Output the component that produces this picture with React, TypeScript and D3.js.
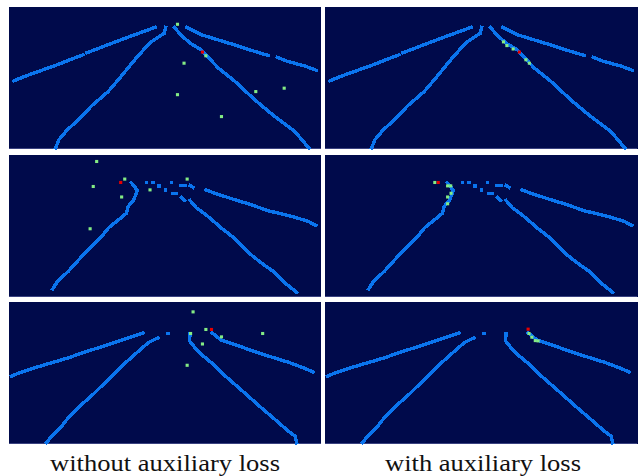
import React, { useEffect, useRef } from 'react';
import * as d3 from 'd3';

// grid is 100 x 46 cells per panel; points are [col, row]
type Pt = [number, number] | null;

const captions = ['without auxiliary loss', 'with auxiliary loss'];

// ground-truth lanes, shared by both columns of a row
const lanesRow1: Pt[][] = [
  [[1.1, 23.4], [5, 21.8], [10, 20], [15, 18.2], [20, 16.2], [23.2, 15], null, [24.5, 14.3], [30, 12.2], [35, 10.3], [40, 8.4], [46.3, 6.1]],
  [[14.4, 45.2], [15.5, 42.5], [18, 39.5], [22.8, 35], [26, 31.5], [31.3, 26.9], [35, 22.5], [39.8, 16.6], [42.5, 13.5], [45.2, 10.7], [49.3, 8], [49.7, 6.1]],
  [[52.5, 6.1], [55, 9], [58, 11.5], [61.2, 13.4], [64, 16.5], [66.6, 19.3], [71.9, 23.6], [78.3, 29.6], [84.7, 35], [91.1, 39.8], [95.6, 45.2]],
  [[56.5, 6.1], [61.2, 8.5], [66, 10], [71.9, 11.8], [77, 13.5], [82.6, 15.2], null, [85.5, 15.8], [89, 17.2], [94, 18.5], [98, 20]],
];

const lanesRow2: Pt[][] = [
  [[13.5, 42.9], [15, 40.5], [18.5, 37.2], [22.8, 32.4], [24.9, 30.2], [29.2, 25.9], [31.3, 23.2], [34, 21], [37.2, 18.3], [37.7, 16.2], [39.5, 14], [40.6, 11], [39.6, 9.5], [38.6, 8.4]],
  [[43.6, 8.4], null, [45.7, 8.4], null, [47.6, 9.6], null, [49.6, 10.8], null, [52.1, 11.9], [53, 11.9], null, [54.8, 13.2], [55.7, 14.2], null, [57.5, 14.2], [59.6, 16.7], [61.2, 17.8], [63.9, 19.9], [67.6, 23.2], [71.4, 26.2], [76.2, 31.1], [80.4, 34.5], [84.2, 37.2], [87.4, 40.5], [91.7, 44]],
  [[51.6, 8.4], null, [54.6, 9.4], [56, 9.4], null, [57.5, 9.4], [58.5, 10], null, [62.6, 10.8], [65.5, 11.9], [71.9, 14], [76.2, 15.3], [82.7, 17.6], [87.9, 18.8], [92.2, 20], [95.4, 21], [97.8, 22.3]],
];

const lanesRow3: Pt[][] = [
  [[0.3, 23.5], [3.5, 22.2], [7.8, 20.8], [13.1, 19.2], [18.5, 17.6], [23.8, 15.7], [29.2, 14], [34.5, 12.2], [38.8, 10.8], [42.5, 9.5]],
  [[11.5, 45.1], [13.2, 42.9], [16.4, 39.7], [18.5, 37], [22.8, 32.7], [27, 28.9], [31.3, 24.6], [35.6, 20.3], [39.8, 16.5], [44.1, 12.7], [47.3, 11.1], null, [50.5, 9.7]],
  [[57.5, 9.7], [57.4, 12.2], [59.1, 14.3], [61.2, 16.5], [64.4, 19.2], [67.6, 22.4], [71.9, 26.2], [76.2, 30], [80.4, 33.8], [84.7, 37.5], [89, 41.3], [91.2, 43], [91.7, 45.1]],
  [[64.6, 9.5], [67.6, 11.9], [71.9, 13.3], [77.2, 15.2], [82.6, 17], [89, 19], [93.8, 20.8], [97, 22.2]],
];

// predicted points per panel, row-major (left, right)
const greenDots: [number, number][][] = [
  [[53.5, 5.1], [62.6, 15.3], [55.6, 17.7], [53.5, 27.9], [67.6, 35], [78.6, 26.9], [87.7, 25.8]],
  [[56.7, 10.8], [57.8, 12], [59.8, 13.1], [63.9, 16.6], [65, 17.7]],
  [[27.6, 1.6], [36.6, 7.3], [26.5, 9.7], [35.6, 13.1], [44.7, 10.8], [56.6, 7.3], [25.5, 23.4]],
  [[34.7, 8.4], [38.8, 9.5], [39.8, 9.5], [39.9, 11.9], [38.8, 13.1], [38.8, 15.3]],
  [[58.5, 2.7], [57.7, 9.7], [62.6, 8.4], [67.6, 10.8], [61.5, 13.1], [56.6, 20], [80.8, 9.7]],
  [[64.9, 9.7], [65.8, 10.9], [66.9, 12], [67.8, 12.1]],
];
const redDots: [number, number][] = [
  [61.5, 14.1], [61.8, 14.1], [35.3, 8.4], [35.8, 8.4], [64.4, 8.4], [64.6, 8.3],
];

const rowLanes = [lanesRow1, lanesRow2, lanesRow3];

const W = 638;
const H = 476;
const colX = [9, 325];
const rowY = [7, 155, 302];
const PW = 312;
const PH = 142;

const BG = '#000a4b';
const LANE = '#0a74ee';
const GREEN = '#84ec84';
const RED = '#e60000';

export default function App() {
  const ref = useRef<SVGSVGElement>(null);

  useEffect(() => {
    const svg = d3.select(ref.current);
    svg.selectAll('*').remove();

    const x = d3.scaleLinear().domain([0, 100]).range([0, PW]);
    const y = d3.scaleLinear().domain([0, 46]).range([0, PH]);
    const cw = x(1) - x(0);
    const ch = y(1) - y(0);

    const line = d3.line<Pt>()
      .defined((d) => d !== null)
      .x((d) => x(d![0]) + cw / 2)
      .y((d) => y(d![1]) + ch / 2);

    for (let r = 0; r < 3; r++) {
      for (let c = 0; c < 2; c++) {
        const i = r * 2 + c;
        const g = svg.append('g')
          .attr('transform', `translate(${colX[c]}, ${rowY[r]})`);

        g.append('rect')
          .attr('width', PW + (c === 1 ? 1 : 0))
          .attr('height', PH)
          .attr('fill', BG);

        g.append('line')
          .attr('x1', 0).attr('x2', PW)
          .attr('y1', PH - 0.5).attr('y2', PH - 0.5)
          .attr('stroke', '#3a4280')
          .attr('stroke-width', 1);

        g.selectAll('path.lane')
          .data(rowLanes[r])
          .enter()
          .append('path')
          .attr('class', 'lane')
          .attr('d', (d) => line(d))
          .attr('fill', 'none')
          .attr('stroke', LANE)
          .attr('stroke-width', 3.4)
          .attr('stroke-linecap', 'square')
          .attr('stroke-linejoin', 'miter')
          .attr('shape-rendering', 'crispEdges');

        g.selectAll('rect.green')
          .data(greenDots[i])
          .enter()
          .append('rect')
          .attr('class', 'green')
          .attr('x', (d) => x(d[0]))
          .attr('y', (d) => y(d[1]))
          .attr('width', cw)
          .attr('height', ch)
          .attr('fill', GREEN);

        g.append('rect')
          .attr('x', x(redDots[i][0]))
          .attr('y', y(redDots[i][1]))
          .attr('width', cw)
          .attr('height', ch)
          .attr('fill', RED);
      }
    }

    svg.selectAll('text.caption')
      .data(captions)
      .enter()
      .append('text')
      .attr('class', 'caption')
      .attr('x', (_, j) => (j === 0 ? 165 : 483))
      .attr('y', 471)
      .attr('text-anchor', 'middle')
      .attr('font-family', '"Liberation Serif", "Times New Roman", serif')
      .attr('font-size', 24)
      .attr('textLength', (_, j) => (j === 0 ? 230 : 196))
      .attr('lengthAdjust', 'spacingAndGlyphs')
      .attr('fill', '#111')
      .text((d) => d);
  }, []);

  return (
    <svg
      ref={ref}
      width={W}
      height={H}
      style={{ position: 'absolute', left: 0, top: 0, background: '#fff' }}
    />
  );
}
